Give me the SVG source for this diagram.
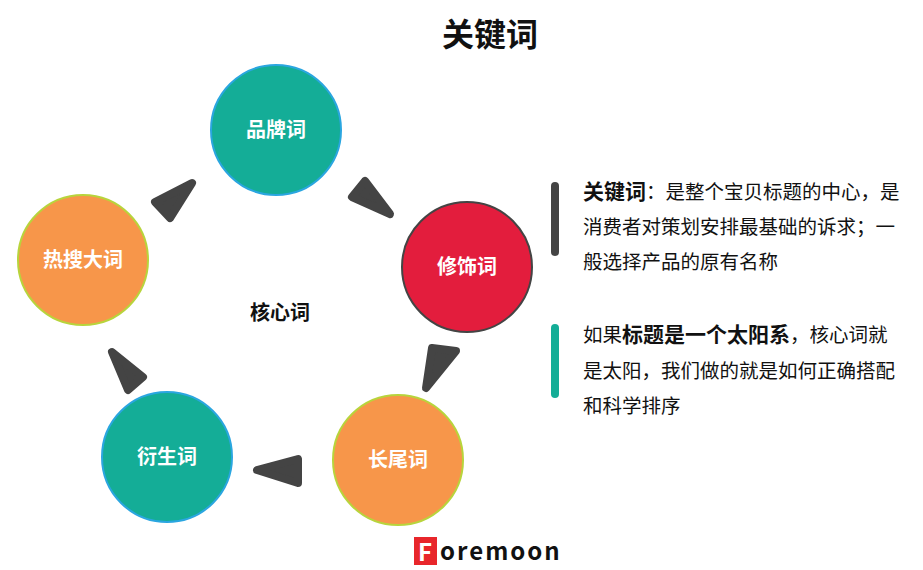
<svg xmlns="http://www.w3.org/2000/svg" width="923" height="570" viewBox="0 0 923 570">
<style>
text{font-family:"Noto Sans CJK SC","Liberation Sans",sans-serif}
.n{font-size:20px;font-weight:bold;fill:#fff;text-anchor:middle}
.t{font-size:19.5px;fill:#111}
.tri{fill:#444;stroke:#444;stroke-width:8;stroke-linejoin:round}
.teal{fill:#14AD97;stroke:#2AA6E0;stroke-width:2}
.org{fill:#F7964A;stroke:#B8D43C;stroke-width:2}
</style>
<rect width="923" height="570" fill="#fff"/>
<text x="490" y="46" font-size="32" font-weight="bold" text-anchor="middle" fill="#111">关键词</text>
<g id="connectors">
<polygon class="tri" points="192,183 155,202 170,218"/>
<polygon class="tri" points="365,181 352,197 390,214"/>
<polygon class="tri" points="432,348 456,351 426,388"/>
<polygon class="tri" points="298,459 298,483 257,470"/>
<polygon class="tri" points="112,352 143,377 128,390"/>
</g>
<g id="pinpai"><circle class="teal" cx="276" cy="130" r="65"/><text class="n" x="276" y="137">品牌词</text></g>
<g id="xiushi"><circle cx="467" cy="267" r="65" fill="#E31D3D" stroke="#444" stroke-width="2"/><text class="n" x="467" y="274">修饰词</text></g>
<g id="resou"><circle class="org" cx="83" cy="260" r="65"/><text class="n" x="83" y="267">热搜大词</text></g>
<g id="yansheng"><circle class="teal" cx="167" cy="457" r="65"/><text class="n" x="167" y="464">衍生词</text></g>
<g id="changwei"><circle class="org" cx="398" cy="460" r="65"/><text class="n" x="398" y="467">长尾词</text></g>
<g id="hexin"><text x="280" y="320" font-size="20" font-weight="bold" text-anchor="middle" fill="#111">核心词</text></g>
<g id="desc">
<rect x="551" y="182" width="8" height="74" rx="4" fill="#444"/>
<rect x="551" y="324" width="8" height="74" rx="4" fill="#14AD97"/>
<text class="t" x="583" y="199"><tspan font-weight="bold" font-size="21">关键词</tspan>：是整个宝贝标题的中心，是</text>
<text class="t" x="583" y="234">消费者对策划安排最基础的诉求；一</text>
<text class="t" x="583" y="269">般选择产品的原有名称</text>
<text class="t" x="583" y="342">如果<tspan font-weight="bold" font-size="21">标题是一个太阳系</tspan>，核心词就</text>
<text class="t" x="583" y="378">是太阳，我们做的就是如何正确搭配</text>
<text class="t" x="583" y="413">和科学排序</text>
</g>
<g id="logo">
<rect x="414" y="537" width="23" height="28" fill="#E8262B"/>
<text x="425" y="561" font-size="24" font-weight="bold" fill="#fff" text-anchor="middle" font-family="Liberation Sans">F</text>
<text x="440" y="560" font-size="24" font-weight="bold" fill="#111" letter-spacing="2" font-family="DejaVu Sans">oremoon</text>
</g>
</svg>
